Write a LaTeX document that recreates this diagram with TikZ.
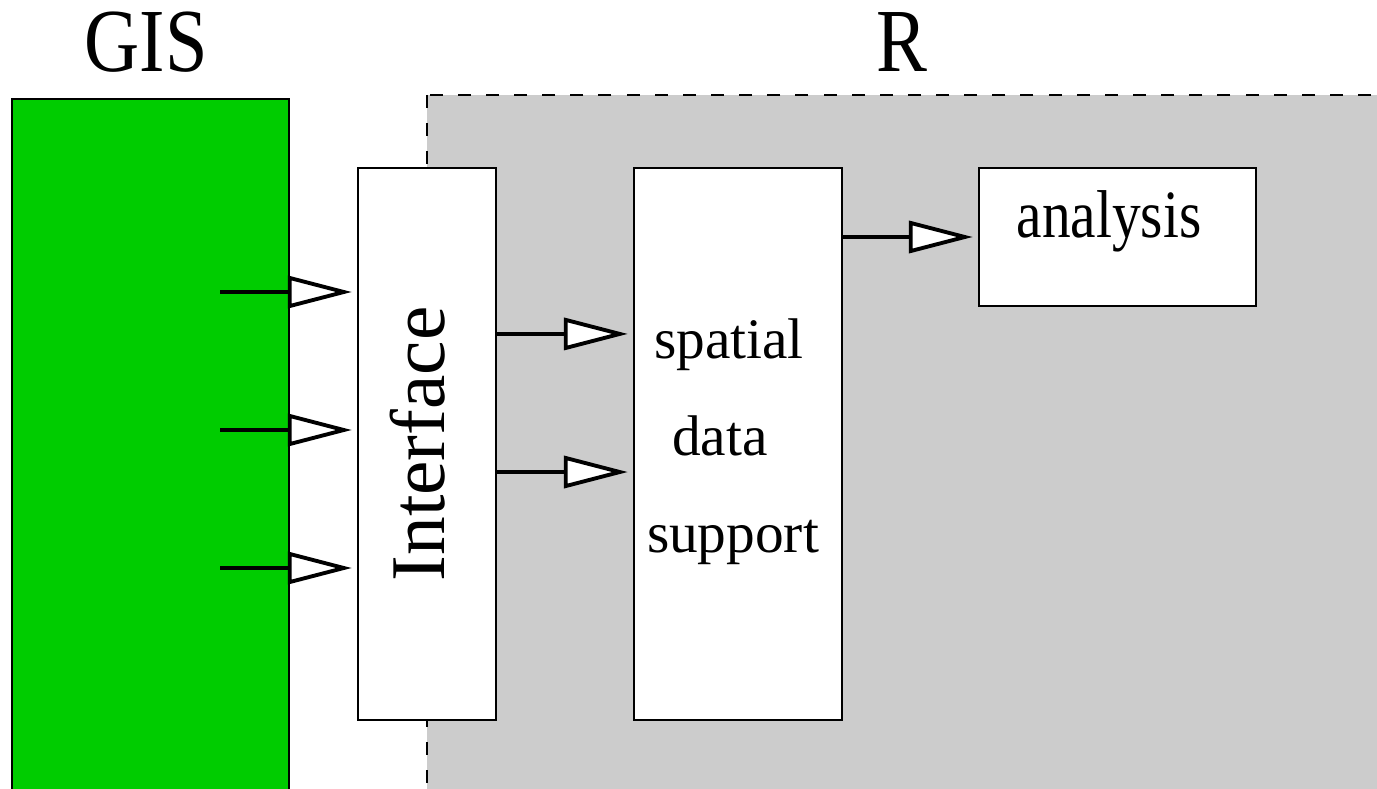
\documentclass[tikz,border=0pt]{standalone}
\usepackage{fontspec}
\setmainfont{Liberation Serif}
\usepackage{graphicx}
\usetikzlibrary{arrows.meta}
\definecolor{gisgreen}{RGB}{0,204,0}
\definecolor{rgray}{RGB}{204,204,204}
\newcommand{\stretched}[1]{\scalebox{1}[1.18]{#1}}

\begin{document}
\begin{tikzpicture}[
    x=0.01cm, y=-0.01cm,
    box/.style={rectangle, draw=black, fill=white, line width=0.65pt, inner sep=0pt},
    title/.style={font=\fontsize{21.7}{26}\selectfont, anchor=base},
    label/.style={font=\fontsize{16.3}{27.5}\selectfont},
    arr/.style={line width=0.95pt, shorten >=0.05cm,
                -{Triangle[fill=white, length=0.64cm, width=0.32cm, line width=1.1pt]}}
  ]
    \useasboundingbox (0,0) rectangle (1377,788);
    \clip (0,0) rectangle (1377,788);
    % the two worlds
    \filldraw[fill=gisgreen, line width=0.65pt] (12,99) rectangle (289,830);
    \filldraw[fill=rgray, line width=0.65pt, dash pattern=on 3.7pt off 4.3pt] (427,95) rectangle (1430,830);
    \node[title] (gis) at (146,72) {\stretched{GIS}};
    \node[title] (r)   at (902,72) {\stretched{R}};
    % boxes
    \node[box, minimum width=1.38cm, minimum height=5.52cm, font=\fontsize{22}{26}\selectfont]
        (iface) at (427,444) {\rotatebox{90}{Interface}\hspace{0.18cm}\mbox{}};
    \node[box, label, align=center, minimum width=2.08cm, minimum height=5.52cm, text depth=0.17cm]
        (spatial) at (738,444)
        {spatial\hspace{0.18cm}\mbox{}\\data\hspace{0.36cm}\mbox{}\\support\hspace{0.1cm}\mbox{}};
    \node[box, label, minimum width=2.77cm, minimum height=1.38cm, text depth=0.46cm]
        (analysis) at (1117.5,237) {\stretched{analysis}\hspace{0.17cm}\mbox{}};
    % connectors
    \coordinate (g1) at (220,292);
    \coordinate (g2) at (220,430);
    \coordinate (g3) at (220,568);
    \foreach \g in {g1,g2,g3}
      \draw[arr] (\g) -- (\g -| iface.west);
    \draw[arr] ([yshift=1.1cm]iface.east) -- ([yshift=1.1cm]spatial.west);
    \draw[arr] ([yshift=-0.28cm]iface.east) -- ([yshift=-0.28cm]spatial.west);
    \draw[arr] (spatial.east |- analysis.west) -- (analysis.west);
\end{tikzpicture}
\end{document}
